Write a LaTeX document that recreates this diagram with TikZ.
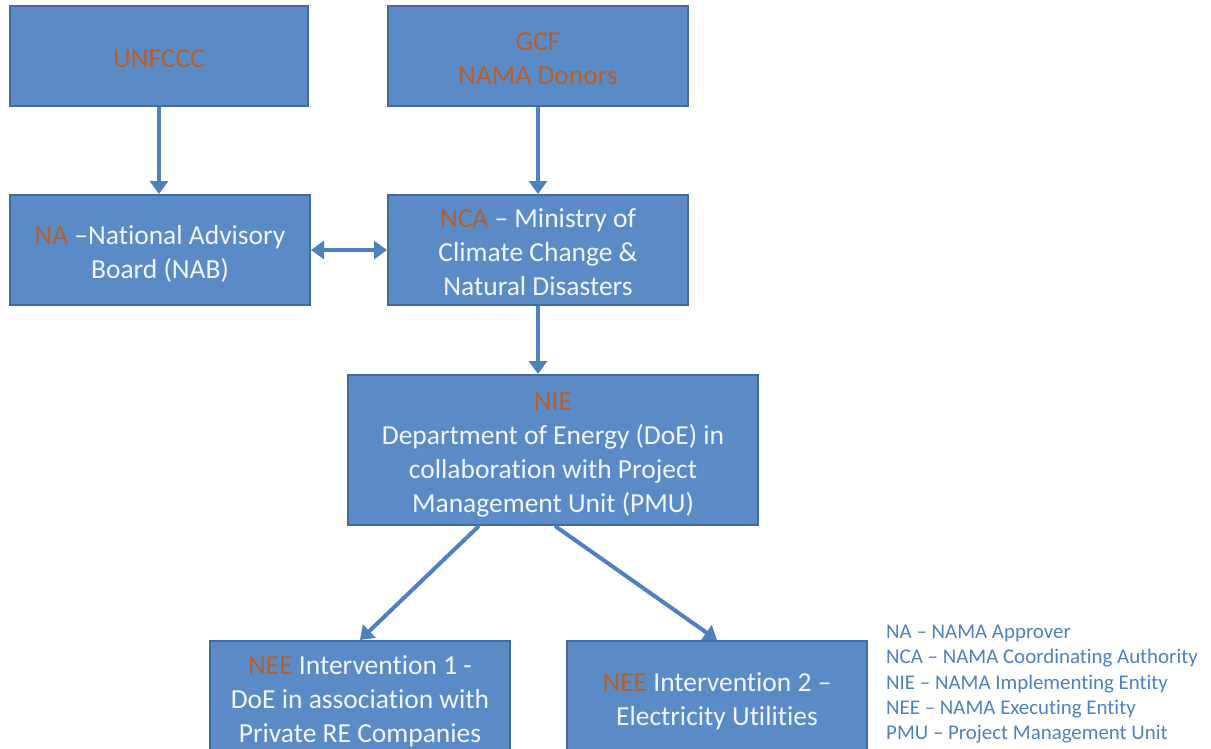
\documentclass[tikz,border=0pt]{standalone}
\usepackage{fontspec}
\setmainfont[RawFeature={-liga;-dlig;-clig;-calt}]{Carlito}
\usetikzlibrary{arrows.meta,calc}
\definecolor{boxfill}{RGB}{91,139,199}
\definecolor{boxline}{RGB}{65,108,155}
\definecolor{arrowcol}{RGB}{79,129,189}
\definecolor{orangetxt}{RGB}{184,94,40}
\definecolor{lighttxt}{RGB}{242,245,250}
\definecolor{legendtxt}{RGB}{79,129,189}
\tikzset{
  orgbox/.style={rectangle, draw=boxline, line width=2pt, fill=boxfill,
    text=lighttxt, inner sep=0pt, text width=290pt, align=flush center,
    font=\fontsize{27.5}{34}\selectfont,
    execute at begin node={\rule{0pt}{30.6pt}},
    execute at end node={\rule[-8pt]{0pt}{0pt}}},
  arr/.style={draw=arrowcol, line width=4pt, -{Triangle[length=13pt,width=18pt]}},
  darr/.style={draw=arrowcol, line width=4pt, {Triangle[length=13pt,width=18pt]}-{Triangle[length=13pt,width=18pt]}},
}
\newcommand{\og}[1]{\textcolor{orangetxt}{#1}}
\begin{document}
\begin{tikzpicture}[x=1pt,y=-1pt]
\useasboundingbox (0,0) rectangle (1211,748);
\node[orgbox, minimum width=298pt, minimum height=100pt] (unf) at (159,56) {\og{UNFCCC}};
\node[orgbox, minimum width=300pt, minimum height=100pt] (gcf) at (538,56) {\og{GCF}\\\og{NAMA Donors}};
\node[orgbox, minimum width=300pt, minimum height=110pt] (na) at (160,250) {\og{NA} –National Advisory\\Board (NAB)};
\node[orgbox, minimum width=300pt, minimum height=110pt] (nca) at (538,250) {\og{NCA} – Ministry of\\Climate Change \&\\Natural Disasters};
\node[orgbox, text width=400pt, minimum width=410pt, minimum height=150pt] (nie) at (553,450) {\og{NIE}\\Department of Energy (DoE) in\\collaboration with Project\\Management Unit (PMU)};
\node[orgbox, minimum width=300pt, minimum height=112pt] (nee1) at (360,697) {\og{NEE} Intervention 1 -\\DoE in association with\\Private RE Companies};
\node[orgbox, minimum width=300pt, minimum height=112pt] (nee2) at (717,697) {\og{NEE} Intervention 2 –\\Electricity Utilities};
\node[anchor=north west, inner sep=0pt, align=left, text=legendtxt,
  font=\fontsize{20.9}{25.3}\selectfont] (legend) at (886,625)
  {NA – NAMA Approver\\NCA – NAMA Coordinating Authority\\NIE – NAMA Implementing Entity\\NEE – NAMA Executing Entity\\PMU – Project Management Unit};
\draw[arr] (unf.south) -- (unf.south |- na.north);
\draw[arr] (gcf.south) -- (nca.north);
\draw[darr] (na.east) -- (nca.west);
\draw[arr] (nca.south) -- (nca.south |- nie.north);
\draw[arr] ($(nie.south west)!0.32!(nie.south east)$) -- (nee1.north);
\draw[arr] ($(nie.south west)!0.505!(nie.south east)$) -- (nee2.north);
\end{tikzpicture}
\end{document}
